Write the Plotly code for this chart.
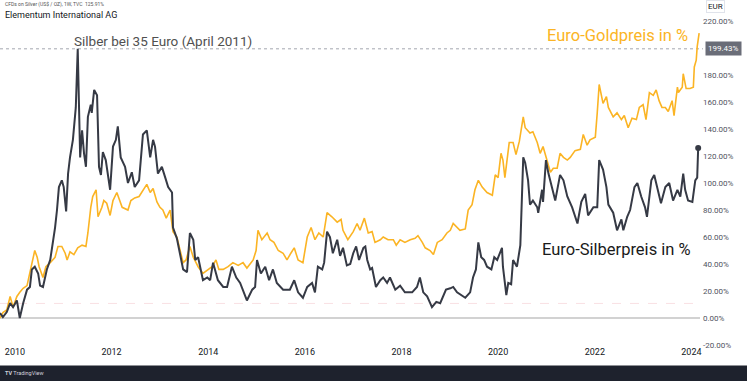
import plotly.graph_objects as go
import pandas as pd

# ---- data (decimal year, % change) ----
silver_years = [2009.69, 2009.75, 2009.83, 2009.90, 2009.96, 2010.04, 2010.10, 2010.17, 2010.25, 2010.31,
    2010.35, 2010.41, 2010.48, 2010.52, 2010.58, 2010.66, 2010.73, 2010.79, 2010.83, 2010.87,
    2010.91, 2010.97, 2011.01, 2011.06, 2011.10, 2011.14, 2011.20, 2011.26, 2011.30, 2011.35,
    2011.39, 2011.43, 2011.47, 2011.51, 2011.57, 2011.59, 2011.64, 2011.70, 2011.74, 2011.78,
    2011.82, 2011.88, 2011.97, 2012.03, 2012.09, 2012.13, 2012.19, 2012.28, 2012.34, 2012.42,
    2012.48, 2012.57, 2012.65, 2012.73, 2012.80, 2012.86, 2012.90, 2012.96, 2013.04, 2013.11,
    2013.17, 2013.25, 2013.27, 2013.35, 2013.42, 2013.48, 2013.56, 2013.62, 2013.69, 2013.73,
    2013.79, 2013.89, 2013.98, 2014.04, 2014.10, 2014.20, 2014.31, 2014.39, 2014.49, 2014.58,
    2014.66, 2014.72, 2014.80, 2014.91, 2014.97, 2015.01, 2015.09, 2015.18, 2015.26, 2015.34,
    2015.42, 2015.55, 2015.69, 2015.78, 2015.86, 2015.96, 2016.05, 2016.15, 2016.21, 2016.27,
    2016.36, 2016.40, 2016.46, 2016.52, 2016.58, 2016.67, 2016.73, 2016.79, 2016.87, 2016.94,
    2017.00, 2017.06, 2017.12, 2017.21, 2017.25, 2017.29, 2017.35, 2017.39, 2017.47, 2017.56,
    2017.62, 2017.70, 2017.76, 2017.87, 2017.97, 2018.07, 2018.22, 2018.32, 2018.38, 2018.45,
    2018.53, 2018.63, 2018.72, 2018.80, 2018.92, 2019.01, 2019.07, 2019.15, 2019.25, 2019.32,
    2019.42, 2019.48, 2019.54, 2019.59, 2019.65, 2019.71, 2019.77, 2019.86, 2019.92, 2019.98,
    2020.08, 2020.10, 2020.17, 2020.21, 2020.27, 2020.31, 2020.39, 2020.46, 2020.52, 2020.56,
    2020.62, 2020.66, 2020.72, 2020.81, 2020.83, 2020.91, 2020.93, 2020.99, 2021.04, 2021.12,
    2021.18, 2021.28, 2021.35, 2021.43, 2021.53, 2021.64, 2021.72, 2021.80, 2021.86, 2021.97,
    2022.05, 2022.09, 2022.17, 2022.24, 2022.28, 2022.38, 2022.46, 2022.55, 2022.59, 2022.67,
    2022.73, 2022.82, 2022.88, 2022.96, 2023.04, 2023.08, 2023.17, 2023.23, 2023.29, 2023.37,
    2023.46, 2023.54, 2023.62, 2023.71, 2023.77, 2023.83, 2023.87, 2023.93, 2024.02, 2024.08,
    2024.12, 2024.14]
silver_pct = [3.7, 0.7, 4.4, 11, 8, 13, 0, 11, 21, 23,
    36, 38, 33, 24, 23, 36, 43, 56, 67, 80,
    97, 102, 97, 79, 107, 119, 132, 156, 199.43, 119,
    139, 122, 112, 149, 158, 152, 169, 165, 112, 106,
    123, 117, 95, 127, 132, 142, 119, 112, 100, 108,
    97, 102, 136, 139, 119, 132, 127, 107, 112, 104,
    97, 93, 67, 59, 46, 36, 34, 63, 58, 43,
    45, 28, 30, 28, 41, 28, 23, 23, 38, 30,
    26, 21, 13, 21, 23, 43, 33, 38, 28, 36,
    26, 21, 21, 28, 19, 15, 23, 26, 19, 38,
    36, 41, 64, 60, 48, 58, 46, 52, 39, 40,
    48, 53, 43, 52, 53, 43, 36, 37, 23, 28,
    30, 26, 30, 21, 24, 19, 19, 23, 30, 19,
    16, 8, 12, 11, 21, 22, 23, 19, 17, 15,
    19, 30, 36, 56, 45, 43, 38, 36, 45, 43,
    52, 38, 17, 26, 25, 43, 38, 54, 119, 115,
    102, 84, 87, 82, 78, 95, 86, 117, 107, 95,
    87, 106, 102, 90, 82, 70, 86, 92, 76, 82,
    82, 117, 110, 97, 84, 78, 65, 73, 65, 75,
    80, 97, 100, 90, 82, 75, 102, 106, 97, 85,
    97, 100, 87, 95, 90, 107, 95, 87, 86, 102,
    104, 125.91]

gold_years = [2009.69, 2009.75, 2009.83, 2009.90, 2009.96, 2010.04, 2010.10, 2010.17, 2010.25, 2010.31,
    2010.37, 2010.41, 2010.46, 2010.50, 2010.58, 2010.64, 2010.73, 2010.83, 2010.89, 2010.97,
    2011.04, 2011.08, 2011.14, 2011.22, 2011.30, 2011.39, 2011.47, 2011.51, 2011.57, 2011.61,
    2011.68, 2011.72, 2011.80, 2011.84, 2011.90, 2011.97, 2012.03, 2012.11, 2012.22, 2012.28,
    2012.34, 2012.40, 2012.48, 2012.57, 2012.65, 2012.73, 2012.80, 2012.86, 2012.94, 2013.00,
    2013.06, 2013.13, 2013.21, 2013.27, 2013.35, 2013.42, 2013.48, 2013.54, 2013.62, 2013.69,
    2013.79, 2013.89, 2014.00, 2014.08, 2014.16, 2014.22, 2014.31, 2014.41, 2014.51, 2014.62,
    2014.72, 2014.80, 2014.93, 2014.99, 2015.03, 2015.11, 2015.22, 2015.28, 2015.36, 2015.45,
    2015.55, 2015.63, 2015.71, 2015.78, 2015.86, 2015.96, 2016.05, 2016.13, 2016.21, 2016.29,
    2016.38, 2016.46, 2016.56, 2016.67, 2016.75, 2016.79, 2016.89, 2017.00, 2017.08, 2017.14,
    2017.23, 2017.31, 2017.39, 2017.45, 2017.56, 2017.62, 2017.72, 2017.83, 2017.89, 2017.97,
    2018.07, 2018.18, 2018.28, 2018.34, 2018.43, 2018.49, 2018.59, 2018.66, 2018.74, 2018.84,
    2018.94, 2019.01, 2019.07, 2019.15, 2019.21, 2019.32, 2019.38, 2019.46, 2019.52, 2019.59,
    2019.67, 2019.77, 2019.88, 2019.94, 2020.00, 2020.06, 2020.10, 2020.14, 2020.19, 2020.23,
    2020.31, 2020.37, 2020.44, 2020.52, 2020.56, 2020.66, 2020.72, 2020.81, 2020.87, 2020.93,
    2020.97, 2021.01, 2021.08, 2021.14, 2021.22, 2021.28, 2021.35, 2021.43, 2021.49, 2021.59,
    2021.70, 2021.76, 2021.84, 2021.90, 2022.01, 2022.05, 2022.09, 2022.17, 2022.24, 2022.28,
    2022.38, 2022.46, 2022.55, 2022.61, 2022.69, 2022.77, 2022.86, 2022.92, 2023.00, 2023.06,
    2023.13, 2023.21, 2023.27, 2023.33, 2023.39, 2023.46, 2023.52, 2023.60, 2023.64, 2023.71,
    2023.73, 2023.81, 2023.83, 2023.89, 2023.97, 2024.04, 2024.06, 2024.10, 2024.12, 2024.16]
gold_pct = [0, 4, 6, 16, 8, 16, 19, 22, 24, 33,
    43, 50, 45, 38, 30, 38, 41, 45, 53, 53,
    48, 43, 49, 47, 52, 54, 53, 63, 82, 90,
    95, 75, 82, 87, 85, 76, 87, 93, 82, 81,
    80, 87, 89, 90, 95, 99, 93, 96, 86, 82,
    80, 74, 80, 64, 60, 50, 41, 43, 53, 45,
    38, 33, 36, 38, 43, 36, 36, 38, 41, 39,
    41, 37, 43, 50, 65, 58, 63, 58, 56, 50,
    48, 43, 48, 52, 43, 41, 60, 67, 58, 63,
    60, 78, 75, 71, 73, 65, 58, 64, 70, 65,
    74, 63, 64, 56, 58, 60, 58, 58, 54, 58,
    56, 58, 59, 61, 56, 52, 50, 47, 56, 58,
    63, 65, 70, 67, 65, 66, 80, 84, 95, 102,
    97, 93, 91, 106, 104, 122, 117, 104, 119, 130,
    130, 121, 131, 149, 141, 137, 138, 130, 122, 127,
    122, 117, 108, 111, 111, 122, 119, 117, 119, 124,
    125, 136, 128, 132, 134, 152, 173, 159, 164, 156,
    149, 152, 147, 150, 141, 148, 147, 156, 158, 147,
    167, 165, 169, 161, 156, 156, 153, 161, 150, 171,
    167, 171, 181, 170, 170, 171, 186, 191, 201, 211]

tick_years = [2010, 2012, 2014, 2016, 2018, 2020, 2022, 2024]
y_ticks = [-20, 0, 20, 40, 60, 80, 100, 120, 140, 160, 180, 220]
silver_peak = 199.43
x_start, x_end = 2009.69, 2024.24


def to_date(y):
    yr = int(y)
    return pd.Timestamp(yr, 1, 1) + pd.Timedelta(days=(y - yr) * 365.25)


silver_dates = [to_date(v) for v in silver_years]
gold_dates = [to_date(v) for v in gold_years]

SILVER = "#363a45"
GOLD = "#fbb424"
FONT = "Roboto"

W, H = 747, 381
ML, MR, MT, MB = 0, 44, 0, 36
PW, PH = W - ML - MR, H - MT - MB


def px(xp):
    return (xp - ML) / PW


def py(yp):
    return (H - MB - yp) / PH


fig = go.Figure()
fig.add_trace(go.Scatter(x=gold_dates, y=gold_pct, mode="lines",
                         line=dict(color=GOLD, width=1.6), hoverinfo="skip"))
fig.add_trace(go.Scatter(x=silver_dates, y=silver_pct, mode="lines",
                         line=dict(color=SILVER, width=2), hoverinfo="skip"))
fig.add_trace(go.Scatter(x=[silver_dates[-1]], y=[silver_pct[-1]], mode="markers",
                         marker=dict(color=SILVER, size=6), hoverinfo="skip"))

shapes = [
    dict(type="line", xref="paper", yref="y", x0=0, x1=px(700), y0=0, y1=0,
         line=dict(color="#d2d2d2", width=2), layer="below"),
    dict(type="line", xref="paper", yref="y", x0=0, x1=px(700), y0=10.8, y1=10.8,
         line=dict(color="#f9e0e3", width=1, dash="dash"), layer="below"),
    dict(type="line", xref="paper", yref="y", x0=0, x1=px(703), y0=silver_peak, y1=silver_peak,
         line=dict(color="#a3a6af", width=1, dash="dot"), layer="below"),
    dict(type="rect", xref="paper", yref="paper", x0=px(0), x1=px(W), y0=py(381), y1=py(365.5),
         fillcolor="#1e222d", line=dict(width=0)),
]

annotations = [
    dict(text="CFDs on Silver (US$ / OZ), 1W, TVC  125.91%", x=px(3), y=py(5),
         xref="paper", yref="paper", xanchor="left", yanchor="middle", showarrow=False,
         font=dict(family=FONT, size=5, color="#555555")),
    dict(text="Elementum International AG", x=px(3), y=py(15),
         xref="paper", yref="paper", xanchor="left", yanchor="middle", showarrow=False,
         font=dict(family=FONT, size=9, color="#131722")),
    dict(text="Silber bei 35 Euro (April 2011)", x=px(72), y=py(41),
         xref="paper", yref="paper", xanchor="left", yanchor="middle", showarrow=False,
         font=dict(family=FONT, size=13.5, color="#505050")),
    dict(text="Euro-Goldpreis in %", x=px(545), y=py(36),
         xref="paper", yref="paper", xanchor="left", yanchor="middle", showarrow=False,
         font=dict(family=FONT, size=16.5, color=GOLD)),
    dict(text="Euro-Silberpreis in %", x=px(540), y=py(249),
         xref="paper", yref="paper", xanchor="left", yanchor="middle", showarrow=False,
         font=dict(family=FONT, size=16.5, color="#1a1a1a")),
    dict(text="EUR", x=px(706), y=py(6),
         xref="paper", yref="paper", xanchor="left", yanchor="middle", showarrow=False,
         font=dict(family=FONT, size=8, color="#131722"),
         bordercolor="#e0e3eb", borderwidth=1, borderpad=1, bgcolor="white"),
    dict(text=f"{silver_peak:.2f}%", x=px(705), y=silver_peak,
         xref="paper", yref="y", xanchor="left", yanchor="middle", showarrow=False,
         font=dict(family=FONT, size=8, color="white"),
         bgcolor="#6a6d78", borderpad=2),
    dict(text="<b>TV</b> TradingView", x=px(3), y=py(373),
         xref="paper", yref="paper", xanchor="left", yanchor="middle", showarrow=False,
         font=dict(family=FONT, size=5.5, color="#d1d4dc")),
]

fig.update_layout(
    width=W, height=H,
    margin=dict(l=ML, r=MR, t=MT, b=MB, autoexpand=False),
    paper_bgcolor="white", plot_bgcolor="white",
    showlegend=False,
    shapes=shapes, annotations=annotations,
    xaxis=dict(type="date", range=[to_date(x_start), to_date(x_end)],
               tickvals=[pd.Timestamp(y, 1, 1) for y in tick_years],
               ticktext=[str(y) for y in tick_years],
               showgrid=False, zeroline=False, showline=False, ticks="",
               tickfont=dict(family=FONT, size=9, color="#131722")),
    yaxis=dict(side="right", range=[-20, 235.6], tickvals=y_ticks,
               ticktext=[f"{v:.2f}%" for v in y_ticks],
               showgrid=False, zeroline=False, showline=False, ticks="",
               ticklabelstandoff=-1,
               tickfont=dict(family=FONT, size=8, color="#50535e")),
)

fig.write_html("out.html", config={"displayModeBar": False},
               post_script="document.body.style.margin='0';document.body.style.padding='0';")
